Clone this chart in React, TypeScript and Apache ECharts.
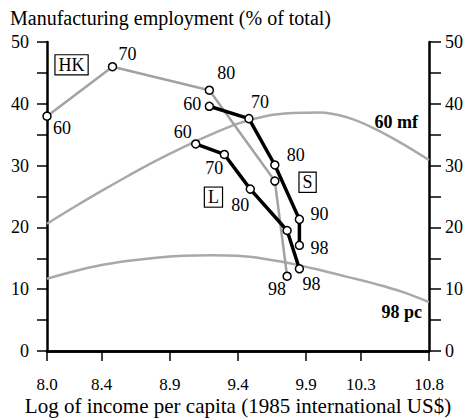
import React, { useEffect, useRef } from "react";
import * as echarts from "echarts";

// ---- data ----
const hkYears = ["60", "70", "80", "90", "98"];
const hkIncome = [8.0, 8.48, 9.19, 9.67, 9.76];
const hkManuf = [38.0, 46.0, 42.2, 27.5, 12.1];

const sYears = ["60", "70", "80", "90", "98"];
const sIncome = [9.19, 9.48, 9.67, 9.85, 9.85];
const sManuf = [39.6, 37.6, 30.1, 21.3, 17.1];

const lYears = ["60", "70", "80", "90", "98"];
const lIncome = [9.09, 9.3, 9.49, 9.76, 9.85];
const lManuf = [33.5, 31.8, 26.2, 19.5, 13.3];

const curveIncome = [8.0, 8.2, 8.4, 8.6, 8.8, 9.0, 9.2, 9.4, 9.6, 9.8, 10.0, 10.2, 10.4, 10.6, 10.8];
const curve60mf = [20.6, 23.3, 25.9, 28.4, 30.8, 33.0, 35.0, 36.8, 38.0, 38.5, 38.6, 37.8, 36.0, 33.6, 30.9];
const curve98pc = [11.7, 12.9, 13.9, 14.6, 15.1, 15.4, 15.5, 15.4, 14.9, 14.1, 13.1, 12.0, 10.9, 9.6, 7.9];

const xTickValues = [8.0, 8.4, 8.9, 9.4, 9.9, 10.3, 10.8];
const yTickValues = [0, 10, 20, 30, 40, 50];

const boxLabels = ["HK", "S", "L"];
const boxIncome = [8.18, 9.91, 9.22];
const boxManuf = [46.3, 27.3, 24.9];

const curveNames = ["60 mf", "98 pc"];
const curveNameIncome = [10.56, 10.6];
const curveNameManuf = [37.0, 6.3];

// ---- styling (label offsets in px relative to each point) ----
const hkOffsets: (number[] | null)[] = [[15, 12], [15, -13], [17, -17], null, [-10, 13]];
const sOffsets: (number[] | null)[] = [[-17, -2], [11, -17], [21, -10], [20, -5], [20, 3]];
const lOffsets: (number[] | null)[] = [[-13, -12], [-10, 14], [-10, 16], null, [12, 15]];

const FONT = "Liberation Serif";
const TXT = "#000";

function pointSeries(
  name: string,
  xs: number[],
  ys: number[],
  years: string[],
  offsets: (number[] | null)[],
  lineColor: string,
  lineWidth: number,
  z: number
) {
  return {
    name,
    type: "line",
    z,
    symbol: "circle",
    symbolSize: 8,
    showSymbol: true,
    lineStyle: { color: lineColor, width: lineWidth },
    itemStyle: { color: "#fff", borderColor: "#000", borderWidth: 1.5 },
    data: xs.map((x, i) => ({
      value: [x, ys[i]],
      label: offsets[i]
        ? {
            show: true,
            position: "inside",
            offset: offsets[i],
            formatter: years[i],
            fontFamily: FONT,
            fontSize: 18,
            color: TXT,
            opacity: 1,
          }
        : { show: false },
    })),
  };
}

export default function App() {
  const ref = useRef<HTMLDivElement>(null);
  useEffect(() => {
    if (!ref.current) return;
    const chart = echarts.init(ref.current, null, { renderer: "svg" });
    const axisLine = { show: true, lineStyle: { color: "#000", width: 2.5 } };
    const option: any = {
      animation: false,
      backgroundColor: "#fff",
      title: {
        text: "Manufacturing employment (% of total)",
        left: 5,
        top: 3,
        textStyle: { fontFamily: FONT, fontSize: 20, fontWeight: "normal", color: TXT },
      },
      grid: { left: 47, right: 41, top: 42, bottom: 67, outerBoundsMode: "none", containLabel: false },
      xAxis: [
        {
          type: "value",
          min: 8.0,
          max: 10.8,
          position: "bottom",
          axisLine,
          splitLine: { show: false },
          axisTick: {
            show: true,
            inside: false,
            length: 10,
            customValues: xTickValues,
            lineStyle: { color: "#000", width: 1.5 },
          },
          axisLabel: {
            customValues: xTickValues,
            formatter: (v: number) => v.toFixed(1),
            margin: 25,
            fontFamily: FONT,
            fontSize: 17,
            color: TXT,
          },
          name: "Log of income per capita (1985 international US$)",
          nameLocation: "middle",
          nameGap: 44,
          nameMoveOverlap: false,
          nameTextStyle: { fontFamily: FONT, fontSize: 21, color: TXT },
        },
        {
          type: "value",
          min: 8.0,
          max: 10.8,
          position: "top",
          axisLine,
          axisTick: { show: false },
          axisLabel: { show: false },
          splitLine: { show: false },
        },
      ],
      yAxis: [
        {
          type: "value",
          min: 0,
          max: 50,
          interval: 10,
          position: "left",
          axisLine,
          splitLine: { show: false },
          axisTick: { show: true, length: 10, lineStyle: { color: "#000", width: 1.5 } },
          minorTick: { show: true, splitNumber: 2, length: 10, lineStyle: { color: "#000", width: 1.5 } },
          axisLabel: {
            customValues: yTickValues,
            margin: 18,
            fontFamily: FONT,
            fontSize: 18,
            color: TXT,
          },
        },
        {
          type: "value",
          min: 0,
          max: 50,
          interval: 10,
          position: "right",
          axisLine,
          splitLine: { show: false },
          axisTick: { show: true, length: 12, lineStyle: { color: "#000", width: 1.5 } },
          minorTick: { show: true, splitNumber: 2, length: 12, lineStyle: { color: "#000", width: 1.5 } },
          axisLabel: {
            customValues: yTickValues,
            margin: 16,
            fontFamily: FONT,
            fontSize: 18,
            color: TXT,
          },
        },
      ],
      series: [
        {
          name: "60 mf curve",
          type: "line",
          smooth: 0.4,
          symbol: "none",
          z: 1,
          lineStyle: { color: "#a9a9a9", width: 2.5 },
          data: curveIncome.map((x, i) => [x, curve60mf[i]]),
        },
        {
          name: "98 pc curve",
          type: "line",
          smooth: 0.4,
          symbol: "none",
          z: 1,
          lineStyle: { color: "#a9a9a9", width: 2.5 },
          data: curveIncome.map((x, i) => [x, curve98pc[i]]),
        },
        pointSeries("HK", hkIncome, hkManuf, hkYears, hkOffsets, "#a2a2a2", 2.5, 2),
        pointSeries("S", sIncome, sManuf, sYears, sOffsets, "#000", 3.5, 3),
        pointSeries("L", lIncome, lManuf, lYears, lOffsets, "#000", 3.5, 3),
        {
          name: "boxes",
          type: "scatter",
          symbol: "circle",
          symbolSize: 0,
          itemStyle: { color: "#fff", opacity: 1 },
          z: 4,
          data: boxIncome.map((x, i) => ({
            value: [x, boxManuf[i]],
            label: {
              show: true,
              position: "inside",
              formatter: boxLabels[i],
              fontFamily: FONT,
              fontSize: 18,
              color: TXT,
              opacity: 1,
              textBorderWidth: 0,
              borderColor: "#000",
              borderWidth: 1.2,
              backgroundColor: "#fff",
              padding: [1, 3, 0, 3],
              lineHeight: 18,
            },
          })),
        },
        {
          name: "curve names",
          type: "scatter",
          symbol: "circle",
          symbolSize: 0,
          itemStyle: { color: "#fff", opacity: 1 },
          z: 4,
          data: curveNameIncome.map((x, i) => ({
            value: [x, curveNameManuf[i]],
            label: {
              show: true,
              position: "inside",
              formatter: curveNames[i],
              fontFamily: FONT,
              fontWeight: "bold",
              fontSize: 18,
              color: TXT,
              opacity: 1,
              textBorderWidth: 0,
            },
          })),
        },
      ],
    };
    chart.setOption(option);
    return () => chart.dispose();
  }, []);
  return (
    <div
      ref={ref}
      style={{ width: 470, height: 418, position: "fixed", left: 0, top: 0, background: "#fff" }}
    />
  );
}
